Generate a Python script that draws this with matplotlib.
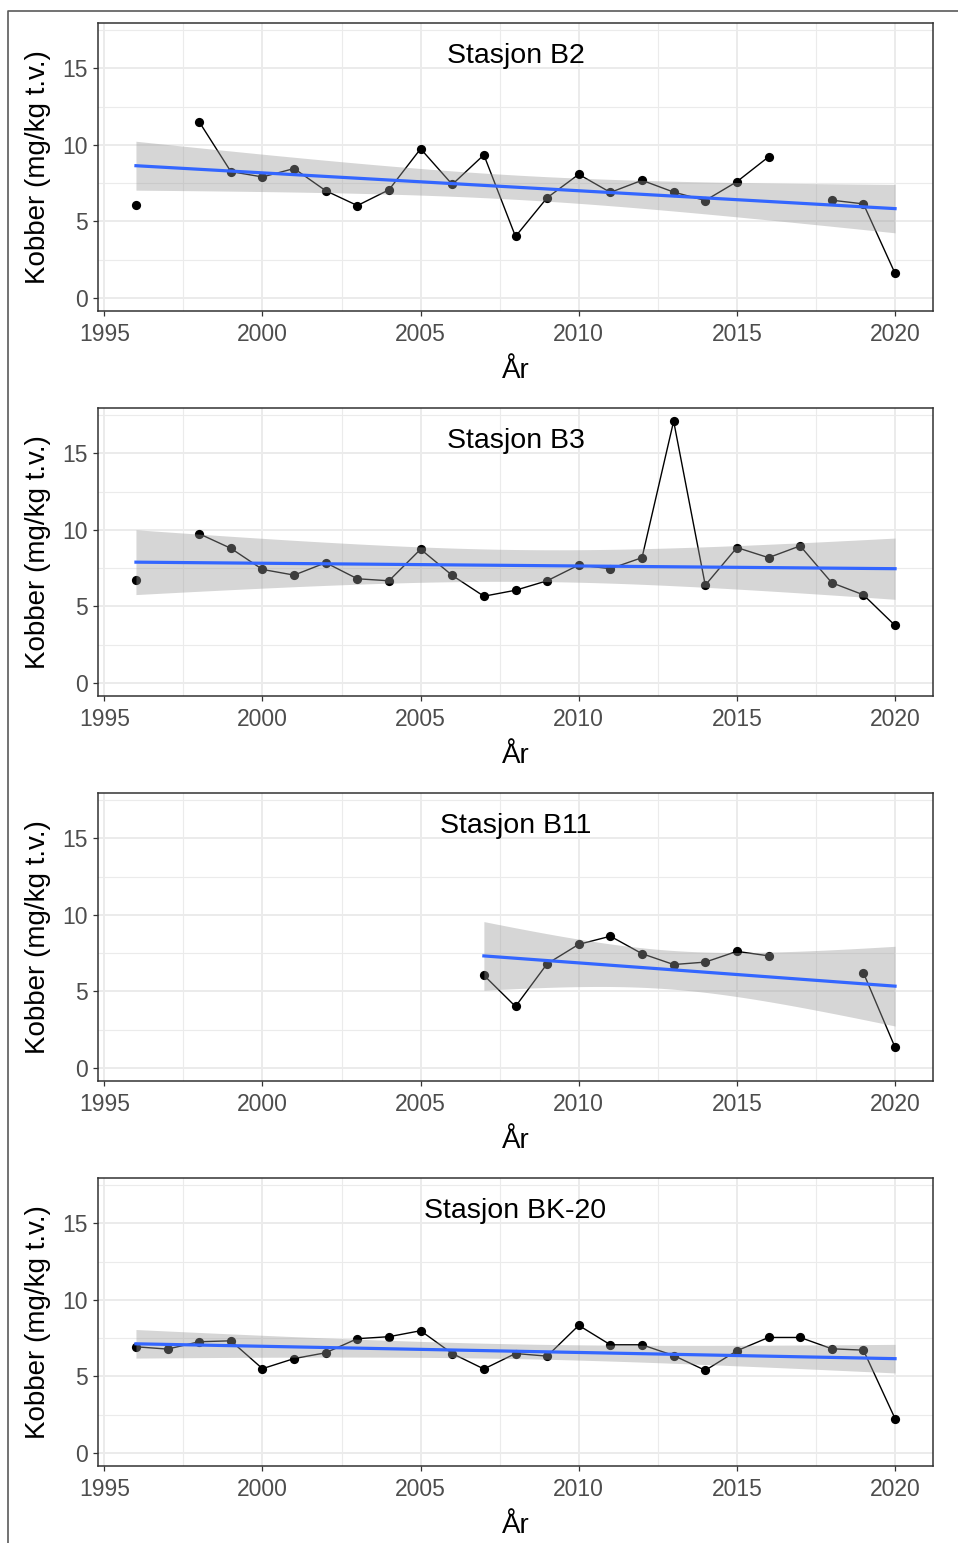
import numpy as np
import matplotlib.pyplot as plt
from matplotlib.lines import Line2D

# Data (nan = no sample that year)
years = np.arange(1996, 2021)

stasjoner = ["Stasjon B2", "Stasjon B3", "Stasjon B11", "Stasjon BK-20"]

kobber_b2 = [6.05, np.nan, 11.5, 8.25, 7.9, 8.45, 7.0, 6.03, 7.06, 9.74, 7.41, 9.34, 4.01,
             6.54, 8.07, 6.89, 7.68, 6.91, 6.36, 7.59, 9.21, np.nan, 6.38, 6.14, 1.6]
kobber_b3 = [6.69, np.nan, 9.74, 8.79, 7.41, 7.04, 7.85, 6.80, 6.67, 8.73, 7.02, 5.66, 6.05,
             6.67, 7.70, 7.46, 8.18, 17.1, 6.38, 8.84, 8.18, 8.95, 6.54, 5.75, 3.75]
kobber_b11 = [np.nan]*11 + [6.05, 4.01, 6.80, 8.07, 8.60, 7.46, 6.75, 6.91, 7.61, 7.32,
                            np.nan, np.nan, 6.21, 1.34]
kobber_bk20 = [6.93, 6.78, 7.26, 7.32, 5.50, 6.16, 6.54, 7.46, 7.59, 7.98, 6.49, 5.48, 6.49,
               6.32, 8.33, 7.06, 7.06, 6.36, 5.39, 6.67, 7.54, 7.54, 6.80, 6.71, 2.24]

serier = [kobber_b2, kobber_b3, kobber_b11, kobber_bk20]

plt.rcParams['font.family'] = ['Liberation Sans', 'DejaVu Sans']


def t975(df):
    # approximation of the 97.5% t quantile
    z = 1.959964
    return z + (z**3 + z) / (4 * df) + (5 * z**5 + 16 * z**3 + 3 * z) / (96 * df**2)


def lm_smooth(x, y, n=80):
    ok = ~np.isnan(y)
    x, y = x[ok], y[ok]
    b, a = np.polyfit(x, y, 1)
    res = y - (a + b * x)
    df = len(x) - 2
    s = np.sqrt(np.sum(res**2) / df)
    xg = np.linspace(x.min(), x.max(), n)
    se = s * np.sqrt(1 / len(x) + (xg - x.mean())**2 / np.sum((x - x.mean())**2))
    fit = a + b * xg
    return xg, fit, fit - t975(df) * se, fit + t975(df) * se


W, H = 958, 1543
fig = plt.figure(figsize=(W / 100, H / 100), dpi=100)

# frame of the original screenshot (top and left only)
fig.add_artist(Line2D([7.5 / W, 7.5 / W, 1], [0, 1 - 10.5 / H, 1 - 10.5 / H],
                      color='#5a5a5a', lw=1.2))

for i, (navn, verdier) in enumerate(zip(stasjoner, serier)):
    top = 23 + 385 * i
    bot = 311 + 385 * i
    ax = fig.add_axes([98 / W, 1 - bot / H, 835 / W, (bot - top) / H])
    y = np.array(verdier, dtype=float)

    ax.plot(years, y, color='black', lw=1.0, zorder=2)
    ax.scatter(years, y, s=44, color='black', zorder=2, linewidths=0)
    xg, fit, lo, hi = lm_smooth(years.astype(float), y)
    ax.fill_between(xg, lo, hi, color='#999999', alpha=0.4, lw=0, zorder=3)
    ax.plot(xg, fit, color='#3366FF', lw=2.3, zorder=4)

    ax.text(0.5, 0.885, navn, transform=ax.transAxes, ha='center', va='center',
            fontsize=20.5, color='black')

    ax.set_xlim(1994.8, 2021.2)
    ax.set_ylim(-0.86, 17.96)
    ax.set_xticks([1995, 2000, 2005, 2010, 2015, 2020])
    ax.set_yticks([0, 5, 10, 15])
    ax.set_xticks(np.arange(1997.5, 2021, 5), minor=True)
    ax.set_yticks([2.5, 7.5, 12.5, 17.5], minor=True)
    ax.grid(True, which='major', color='#EBEBEB', lw=1.4, zorder=0)
    ax.grid(True, which='minor', color='#EBEBEB', lw=0.8, zorder=0)
    ax.set_axisbelow(True)
    ax.tick_params(which='major', length=3.5, width=0.9, color='#333333',
                   labelcolor='#4D4D4D', labelsize=16.5)
    ax.tick_params(axis='x', pad=5)
    ax.tick_params(axis='y', pad=4)
    ax.tick_params(which='minor', length=0)
    for sp in ax.spines.values():
        sp.set_color('#333333')
        sp.set_linewidth(1.1)

    ax.set_xlabel('År', fontsize=20, labelpad=9)
    ax.set_ylabel('Kobber (mg/kg t.v.)', fontsize=20, labelpad=8)

fig.savefig('out.png', dpi=100, facecolor='white')
